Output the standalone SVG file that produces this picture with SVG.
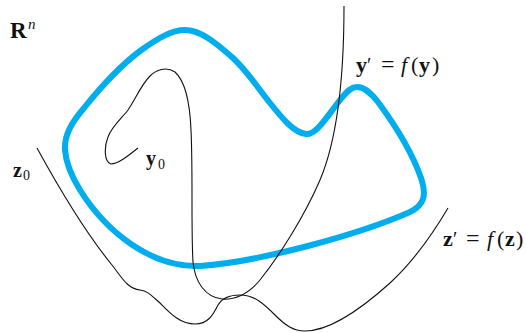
<svg xmlns="http://www.w3.org/2000/svg" width="526" height="333" viewBox="0 0 526 333">
<style>
.t{font-family:"Liberation Serif","DejaVu Serif",serif;font-size:20px;fill:#111}
.b{font-weight:bold}
.i{font-style:italic}
.s{font-size:14px}
.L{font-size:22px}
.eq{font-size:24px}
.blue{fill:none;stroke:#00AEEF;stroke-width:6;stroke-linejoin:round}
.blk{fill:none;stroke:#111;stroke-width:1.1}
</style>
<rect width="526" height="333" fill="#fff"/>
<g id="set">
<path class="blue" d="M 65,150 C 64,135 72,122 84,108 C 100,88 120,66 140,51 C 158,38 172,30 185,30 C 200,30 215,42 233,58 C 248,72 258,88 270,103 C 282,118 294,133 306,134 C 316,135 326,118 340,100 C 348,90 352,87 357,87 C 364,87 370,92 378,102 C 395,125 412,152 421,178 C 427,196 424,205 410,212 C 360,234 260,262 200,266 C 150,268 105,230 80,190 C 72,177 66,163 65,150 Z"/>
</g>
<g id="curves">
<path id="ycurve" class="blk" d="M 138,148 C 128,156 118,164 111,164 C 104,162 104,147 108,137 C 112,126 122,118 128,110 C 135,100 141,85 150,76 C 156,70 166,66 175,72 C 186,82 190,105 191,130 C 193,170 191,230 193,262 C 195,282 205,297 222,299 C 238,300 250,292 260,280 C 280,255 305,215 320,180 C 337,140 344,80 344,6"/>
<path id="zcurve" class="blk" d="M 37,148 C 60,190 85,232 112,265 C 122,278 128,289 140,290 C 148,291 152,296 160,303 C 170,313 180,324 195,324 C 208,324 213,315 218,305 C 222,298 230,295 240,295 C 255,295 265,305 275,315 C 285,325 293,331 305,331 C 330,331 360,310 390,283 C 415,260 435,230 448,208"/>
</g>
<g id="labels">
<text class="t b" x="10" y="38" style="font-size:23px">R<tspan class="i s" style="font-weight:normal;font-size:15px" x="28" y="29">n</tspan></text>
<text class="t b" x="146" y="165">y<tspan class="s" style="font-weight:normal" x="158" y="169">0</tspan></text>
<text class="t b" x="13" y="177">z<tspan class="s" style="font-weight:normal" x="23" y="180">0</tspan></text>
<text class="t" y="72"><tspan class="b L" x="356">y</tspan><tspan x="367">′</tspan><tspan class="eq" x="381">=</tspan><tspan class="i L" x="401">f</tspan><tspan class="L" x="411">(</tspan><tspan class="b L" x="419">y</tspan><tspan class="L" x="432">)</tspan></text>
<text class="t" y="246"><tspan class="b L" x="443">z</tspan><tspan x="453">′</tspan><tspan class="eq" x="466">=</tspan><tspan class="i L" x="487">f</tspan><tspan class="L" x="497">(</tspan><tspan class="b L" x="505">z</tspan><tspan class="L" x="516">)</tspan></text>
</g>
</svg>
